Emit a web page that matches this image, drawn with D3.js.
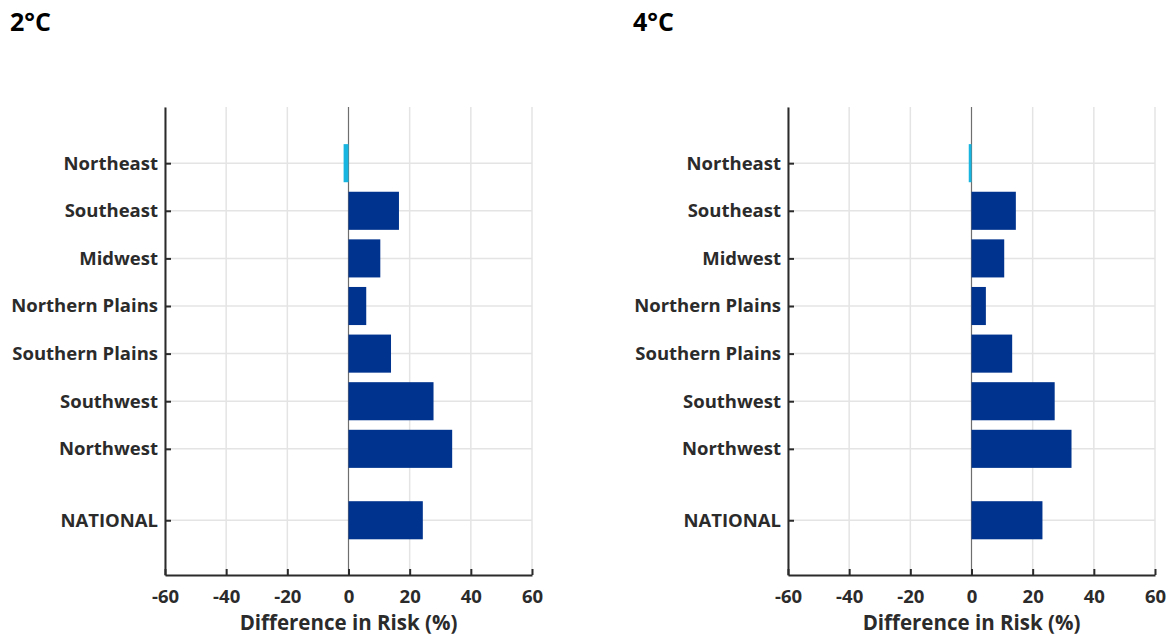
<!DOCTYPE html>
<html>
<head>
<meta charset="utf-8">
<script src="https://cdn.jsdelivr.net/npm/d3@7"></script>
<style>
  html, body { margin: 0; padding: 0; background: #fff; }
  svg { display: block; font-family: "Open Sans", "Noto Sans", sans-serif; }
</style>
</head>
<body>
<svg id="chart" width="1170" height="637"></svg>
<script>
// Regions, top to bottom; NATIONAL sits after a gap
const regions = ["Northeast", "Southeast", "Midwest", "Northern Plains",
                 "Southern Plains", "Southwest", "Northwest", "NATIONAL"];
const rowPositions = [0, 1, 2, 3, 4, 5, 6, 7.5];

// Difference in risk (%) by region
const values2C = [-1.6, 16.5, 10.4, 5.8, 13.9, 27.8, 33.9, 24.3];
const values4C = [-0.9, 14.5, 10.7, 4.7, 13.3, 27.2, 32.7, 23.2];

const panelTitles = ["2°C", "4°C"];
const xTicks = [-60, -40, -20, 0, 20, 40, 60];
const axisLabel = "Difference in Risk (%)";

const svg = d3.select("#chart");

const panels = [
  { title: panelTitles[0], values: values2C, left: 165, titleX: 10 },
  { title: panelTitles[1], values: values4C, left: 788, titleX: 633 }
];

const plotW = 367, plotTop = 107, plotBottom = 575;
const navy = "#00338d", cyan = "#17b5e0", ink = "#2b2b2b";

panels.forEach(p => {
  const g = svg.append("g");

  const x = d3.scaleLinear().domain([-60, 60]).range([p.left, p.left + plotW]);
  const y = d3.scaleLinear().domain([-1.18, 8.65]).range([plotTop, plotBottom]);
  const band = 0.8 * (y(1) - y(0));

  // title
  g.append("text")
    .attr("x", p.titleX).attr("y", 31)
    .attr("font-size", 25).attr("font-weight", 700).attr("fill", "#000")
    .text(p.title);

  // vertical gridlines
  g.selectAll(".vgrid").data(xTicks.filter(t => t !== 0)).enter().append("line")
    .attr("x1", d => x(d)).attr("x2", d => x(d))
    .attr("y1", plotTop).attr("y2", plotBottom)
    .attr("stroke", "#e4e4e4").attr("stroke-width", 1.5);

  // horizontal gridlines at category rows
  g.selectAll(".hgrid").data(rowPositions).enter().append("line")
    .attr("x1", x(-60)).attr("x2", x(60))
    .attr("y1", d => y(d)).attr("y2", d => y(d))
    .attr("stroke", "#e4e4e4").attr("stroke-width", 1.5);

  // zero line
  g.append("line")
    .attr("x1", x(0)).attr("x2", x(0))
    .attr("y1", plotTop).attr("y2", plotBottom)
    .attr("stroke", "#6e6e6e").attr("stroke-width", 1.2);

  // bars
  g.selectAll(".bar").data(p.values).enter().append("rect")
    .attr("x", d => x(Math.min(0, d)))
    .attr("width", d => Math.abs(x(d) - x(0)))
    .attr("y", (d, i) => y(rowPositions[i]) - band / 2)
    .attr("height", band)
    .attr("fill", d => d < 0 ? cyan : navy);

  // x axis (plain hyphen for negatives)
  const xAxis = g.append("g")
    .attr("transform", `translate(0,${plotBottom})`)
    .call(d3.axisBottom(x).tickValues(xTicks).tickFormat(d => String(d))
      .tickSize(-6).tickPadding(15).tickSizeOuter(0));
  xAxis.select(".domain").attr("stroke", ink).attr("stroke-width", 2);
  xAxis.selectAll(".tick line").attr("stroke", ink).attr("stroke-width", 2);
  xAxis.selectAll(".tick text")
    .attr("font-size", 18.5).attr("font-weight", 700).attr("fill", ink)
    .attr("font-family", "'Open Sans', sans-serif");

  // y axis
  const yAxis = g.append("g")
    .attr("transform", `translate(${p.left},0)`)
    .call(d3.axisLeft(y).tickValues(rowPositions)
      .tickFormat((d, i) => regions[i]).tickSize(-6).tickPadding(7).tickSizeOuter(0));
  yAxis.select(".domain").attr("stroke", ink).attr("stroke-width", 2);
  yAxis.selectAll(".tick line").attr("stroke", ink).attr("stroke-width", 2);
  yAxis.selectAll(".tick text")
    .attr("font-size", 18.5).attr("font-weight", 700).attr("fill", ink)
    .attr("font-family", "'Open Sans', sans-serif");

  // axis label
  g.append("text")
    .attr("x", x(0)).attr("y", 630)
    .attr("text-anchor", "middle")
    .attr("font-size", 20.5).attr("font-weight", 700).attr("fill", ink)
    .text(axisLabel);
});
</script>
</body>
</html>
